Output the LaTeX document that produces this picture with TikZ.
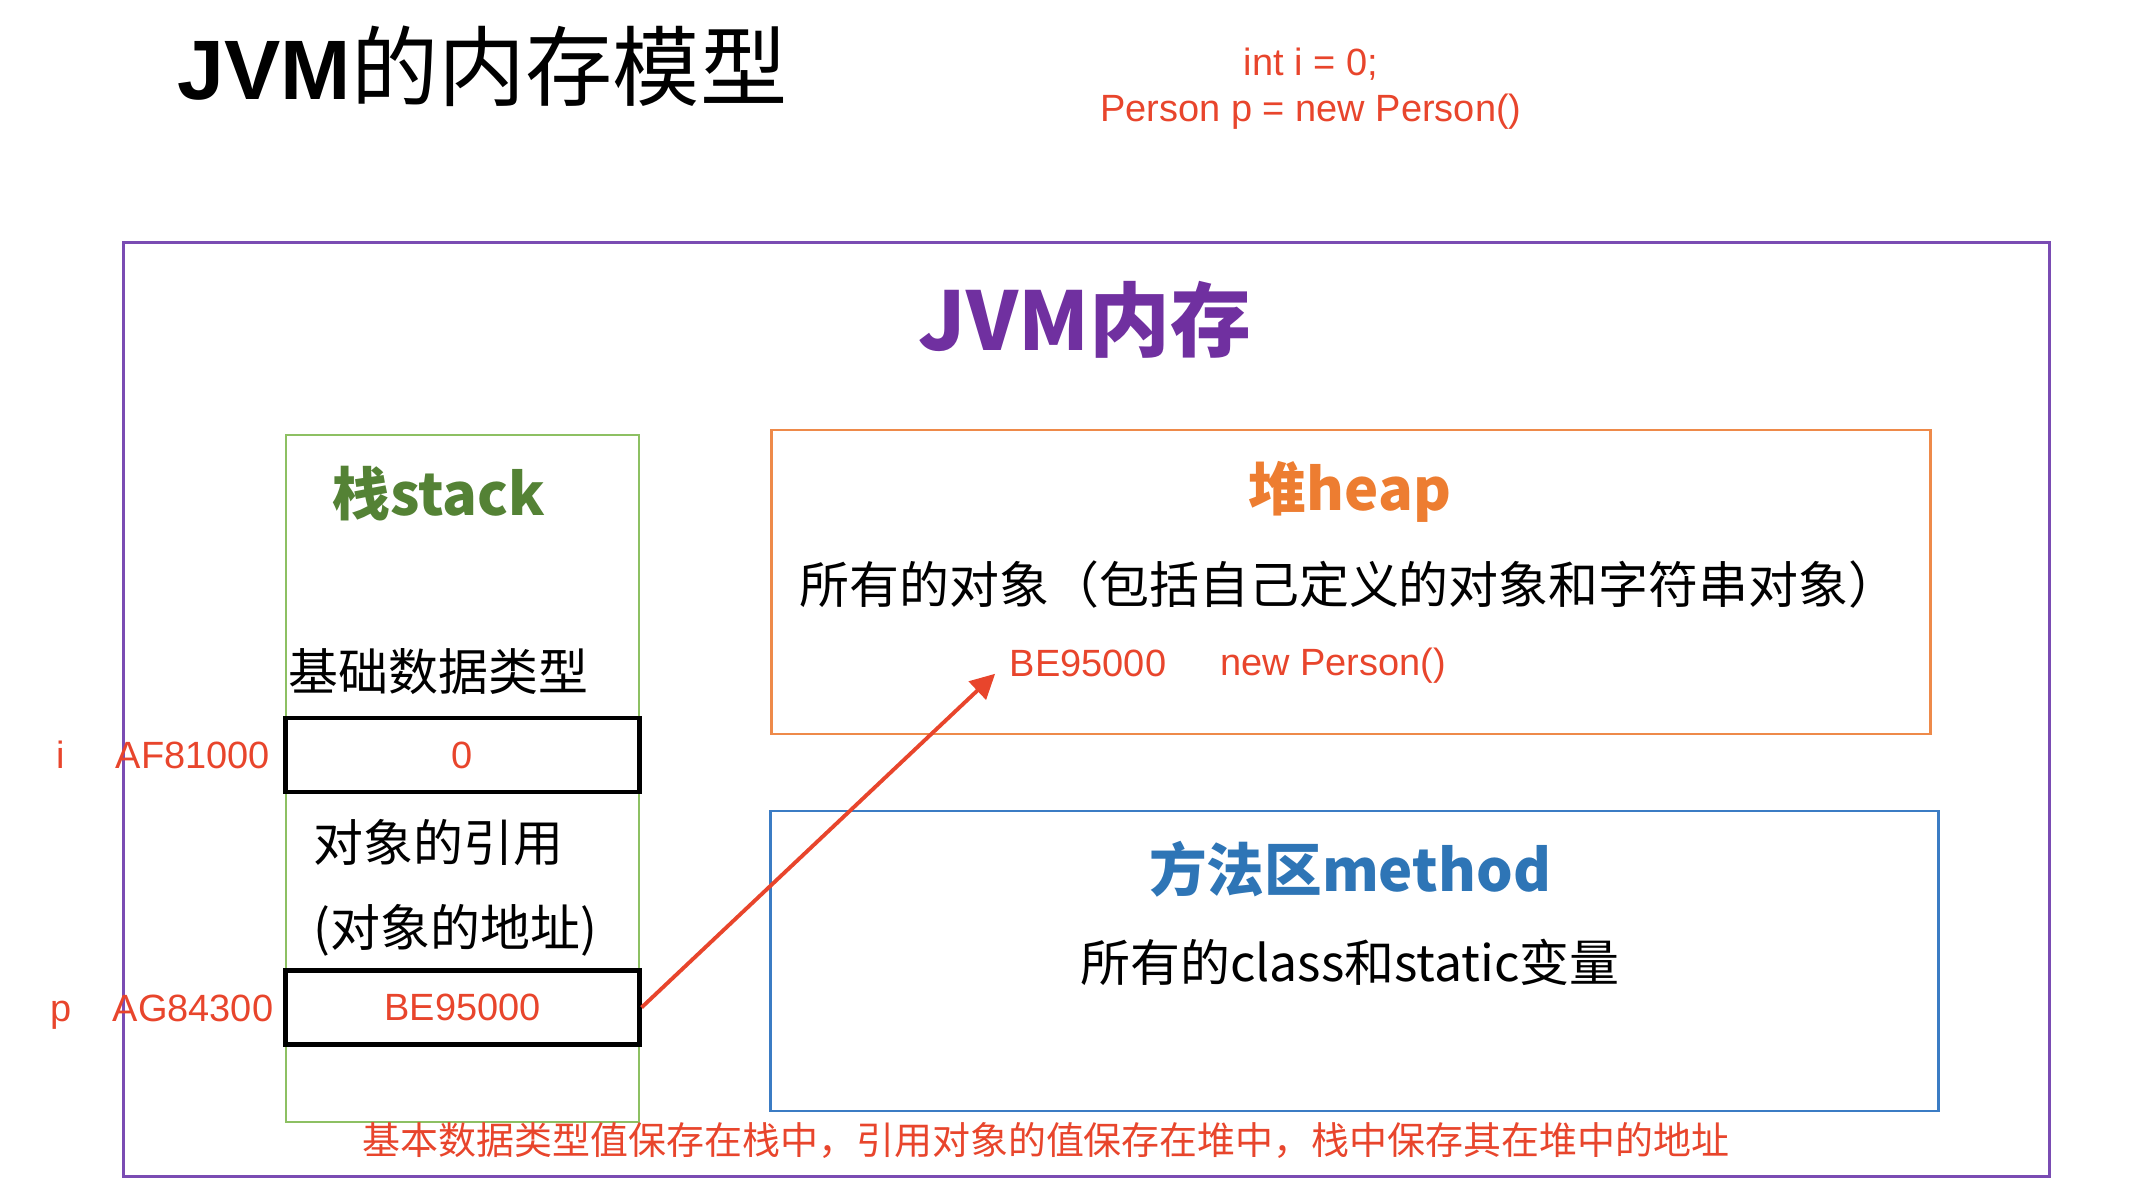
\documentclass[tikz,border=0pt]{standalone}
\usepackage{fontspec}
\setmainfont{Liberation Sans}
\newfontfamily\zhfont{Noto Sans CJK SC}
\usetikzlibrary{arrows.meta,positioning}
\definecolor{jvmred}{HTML}{E8452C}
\definecolor{jvmpurple}{HTML}{7A4CB3}
\definecolor{jvmtitle}{HTML}{7030A0}
\definecolor{stkline}{HTML}{8DC063}
\definecolor{stktext}{HTML}{548235}
\definecolor{heapline}{HTML}{EE8A4A}
\definecolor{heaptext}{HTML}{ED7D31}
\definecolor{mthline}{HTML}{3B7CC4}
\definecolor{mthtext}{HTML}{2E75B6}
\newcommand\fsz[1]{\fontsize{#1}{#1}\selectfont}
\tikzset{
  area/.style={draw, inner sep=0pt},
  cell/.style={draw=black, line width=1.4pt, minimum width=3.53cm, minimum height=0.74cm, inner sep=0pt, text=jvmred, font=\fsz{10.8pt}},
  zh/.style={font=\zhfont\fsz{14.2pt}, inner sep=0pt},
  head/.style={font=\zhfont\bfseries\fsz{16.4pt}, inner sep=0pt},
  addr/.style={text=jvmred, font=\fsz{10.8pt}, inner sep=0pt, text height=0.9em, text depth=0.184em},
  ptr/.style={-{Triangle[length=7pt,width=7pt]}, line width=1.1pt, color=jvmred},
}
\begin{document}
\begin{tikzpicture}[x=0.01cm, y=-0.01cm]
  \useasboundingbox (0,0) rectangle (2132,1200);
  % title and source lines
  \node[inner sep=0pt, anchor=west] (title) at (177,66) {\fsz{24pt}\textbf{JVM}\zhfont\fsz{24.8pt}的内存模型};
  \node[text=jvmred, inner sep=0pt, align=center, font=\fontsize{10.8pt}{13.1pt}\selectfont] (code) at (1311,89) {int i = 0;\\Person p = new Person()};
  % jvm frame
  \node[area, draw=jvmpurple, line width=0.85pt, minimum width=19.25cm, minimum height=9.33cm] (jvm) at (1086.5,709.5) {};
  \node[font=\zhfont\bfseries\fsz{23pt}, text=jvmtitle, inner sep=0pt] (jvmlbl) at (1085,320) {JVM内存};
  % stack
  \node[area, draw=stkline, line width=0.6pt, minimum width=3.53cm, minimum height=6.87cm] (stack) at (462.5,778.5) {};
  \node[head, text=stktext] (stacklbl) at (439,494) {栈stack};
  \node[zh, anchor=west] (prim) at (288,672) {基础数据类型};
  \node[cell] (ival) at (462.5,755) {0};
  \node[zh, anchor=west] (ref) at (313,843) {对象的引用};
  \node[zh, anchor=west] (refaddr) at (313,930) {(对象的地址)};
  \node[cell] (pval) at (462.5,1007.5) {BE95000};
  \node[addr] (iname) at (61,756) {i};
  \node[addr] (iaddr) at (193,756) {AF81000};
  \node[addr] (pname) at (61,1009) {p};
  \node[addr] (paddr) at (193,1009) {AG84300};
  % heap
  \node[area, draw=heapline, line width=0.7pt, minimum width=11.58cm, minimum height=3.04cm] (heap) at (1351,582) {};
  \node[head, text=heaptext] (heaplbl) at (1350,492) {堆heap};
  \node[zh] (heapdesc) at (1349,585) {所有的对象（包括自己定义的对象和字符串对象）};
  \node[addr] (hbe) at (1088,664) {BE95000};
  \node[addr] (hobj) at (1333,663) {new Person()};
  % method area
  \node[area, draw=mthline, line width=0.7pt, minimum width=11.67cm, minimum height=3.0cm] (method) at (1354.5,961) {};
  \node[head, text=mthtext] (mthlbl) at (1350,869) {方法区method};
  \node[zh] (mthdesc) at (1350,962) {所有的class和static变量};
  \node[addr, font=\zhfont\fsz{10.8pt}] (note) at (1046,1142) {基本数据类型值保存在栈中，引用对象的值保存在堆中，栈中保存其在堆中的地址};
  \draw[ptr] (pval.east) -- ([xshift=-0.14cm, yshift=0.1cm]hbe.south west);
\end{tikzpicture}
\end{document}
